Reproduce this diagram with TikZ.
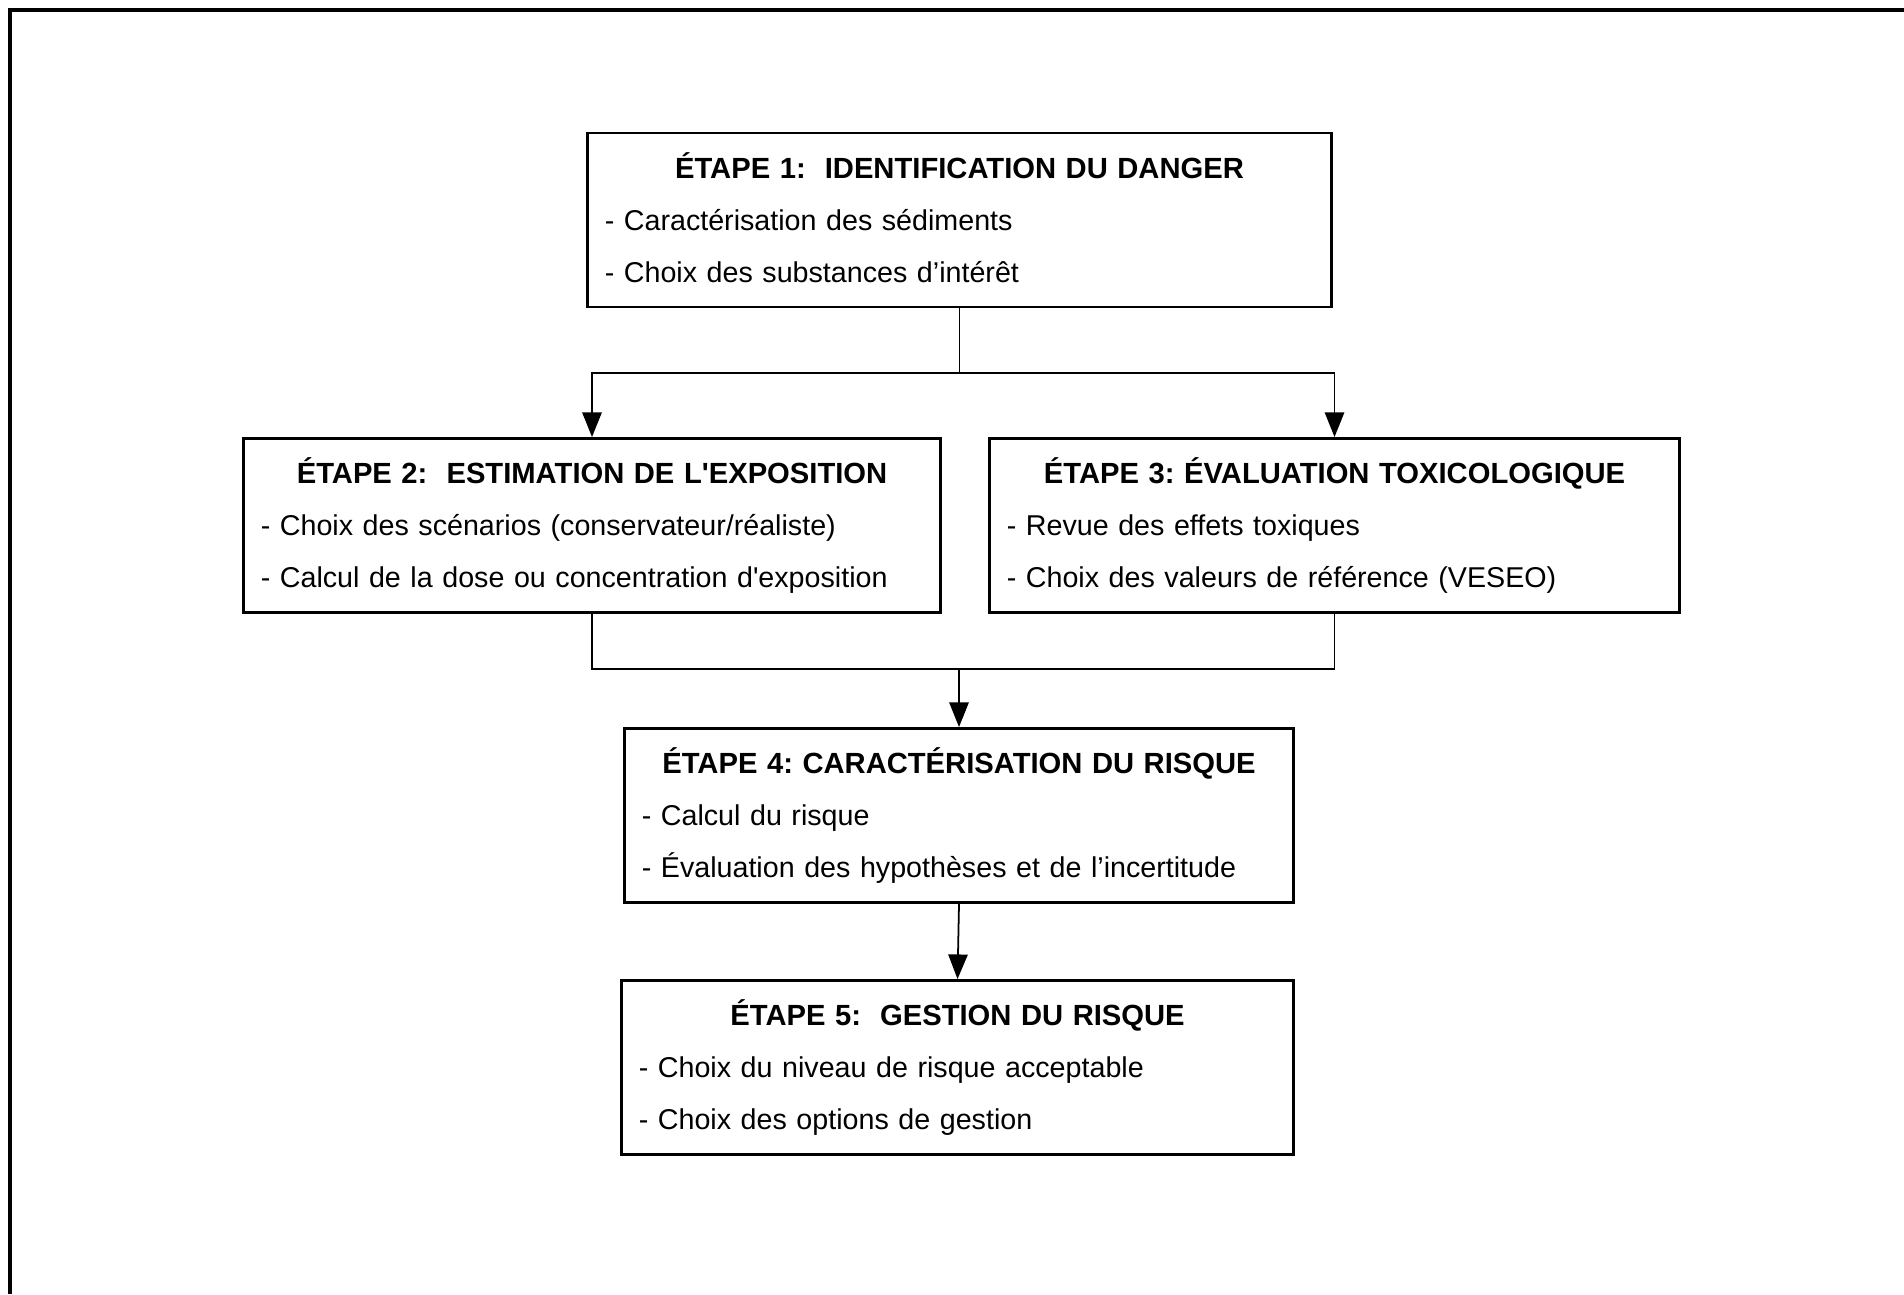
\documentclass[tikz,border=0pt]{standalone}
\usepackage{fontspec}
\setmainfont{Liberation Sans}
\usetikzlibrary{arrows.meta}

\tikzset{
    etape/.style={draw, rectangle, line width=0.8pt, inner xsep=0.17cm, inner ysep=0pt,
        minimum height=1.74cm, text width=#1, font=\fontsize{8.15}{14.8}\selectfont\frenchspacing},
    lien/.style={line width=0.5pt},
    fleche/.style={line width=0.5pt, -{Triangle[length=7pt,width=5.5pt]}}
}
\newcommand{\etapetitre}[1]{\centering\fontsize{8.3}{14.8}\selectfont\bfseries\strut #1\par
    \raggedright\fontsize{8.15}{14.8}\selectfont\mdseries}

\begin{document}
\begin{tikzpicture}[x=0.01cm, y=-0.01cm]
    % Cadre
    \useasboundingbox (0,0) rectangle (1904,1294);
    \draw[line width=0.9pt] (1904,10) -- (10,10) -- (10,1294);

    % Etapes
    \node[etape=7.09cm] (e1) at (959.5,220) {\etapetitre{ÉTAPE 1:\ \ IDENTIFICATION DU DANGER}
        \strut - Caractérisation des sédiments\par
        \strut - Choix des substances d’intérêt};
    \node[etape=6.62cm] (e2) at (592,525.5) {\etapetitre{ÉTAPE 2:\ \ ESTIMATION DE L\textquotesingle EXPOSITION}
        \strut - Choix des scénarios (conservateur/réaliste)\par
        \strut - Calcul de la dose ou concentration d\textquotesingle exposition};
    \node[etape=6.55cm] (e3) at (1334.5,525.5) {\etapetitre{ÉTAPE 3: ÉVALUATION TOXICOLOGIQUE}
        \strut - Revue des effets toxiques\par
        \strut - Choix des valeurs de référence (VESEO)};
    \node[etape=6.34cm] (e4) at (959,815.5) {\etapetitre{ÉTAPE 4: CARACTÉRISATION DU RISQUE}
        \strut - Calcul du risque\par
        \strut - Évaluation des hypothèses et de l’incertitude};
    \node[etape=6.37cm] (e5) at (957.5,1067.5) {\etapetitre{ÉTAPE 5:\ \ GESTION DU RISQUE}
        \strut - Choix du niveau de risque acceptable\par
        \strut - Choix des options de gestion};

    % Liens
    \coordinate (split) at (959.5,373);
    \coordinate (join) at (959,669);
    \draw[lien] (e1.south) -- (split);
    \draw[fleche] (split) -| (e2.north);
    \draw[fleche] (split) -| (e3.north);
    \draw[lien] (e2.south) |- (join) -| (e3.south);
    \draw[fleche] (join) -- (e4.north);
    \draw[fleche] (e4.south) -- (e5.north);
\end{tikzpicture}
\end{document}
